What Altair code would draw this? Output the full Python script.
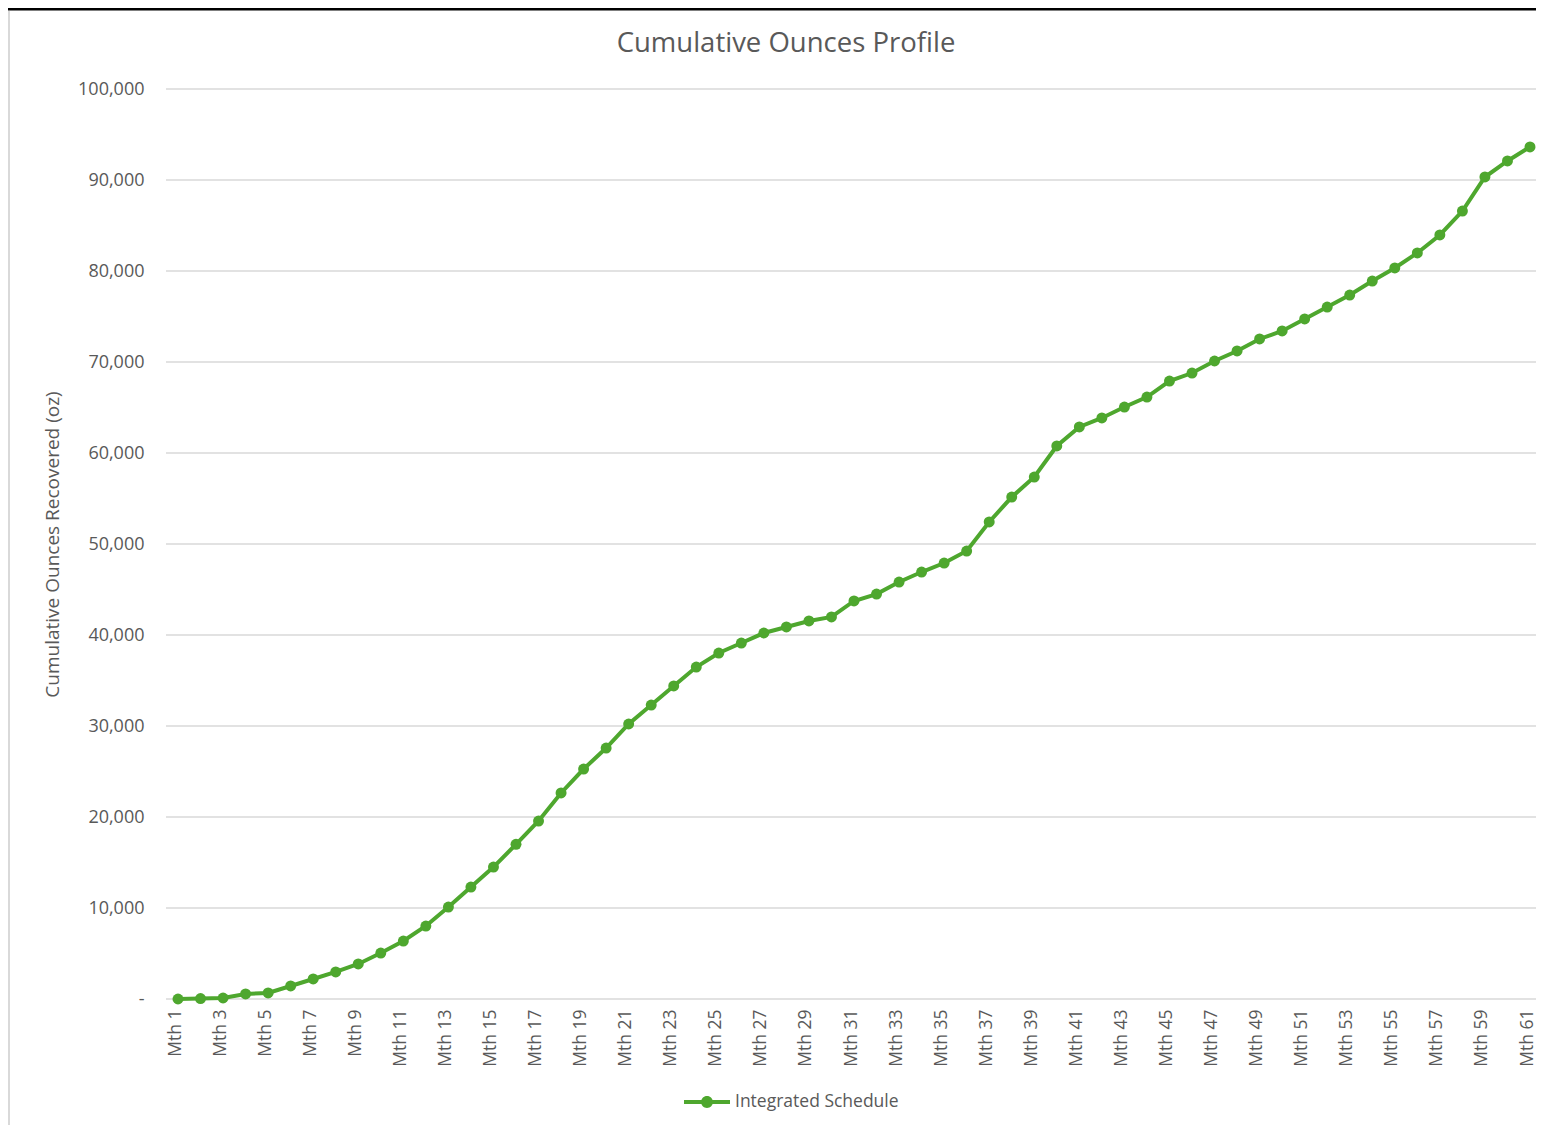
import altair as alt
import pandas as pd

months = [f"Mth {i}" for i in range(1, 62)]
ounces = [0, 50, 110, 550, 660, 1430, 2200, 2970, 3850, 5050,
          6370, 8020, 10100, 12300, 14500, 17000, 19560, 22640, 25270, 27580,
          30220, 32300, 34400, 36480, 38020, 39120, 40220, 40880, 41540, 41980,
          43740, 44500, 45820, 46920, 47910, 49230, 52420, 55160, 57360, 60770,
          62860, 63850, 65050, 66150, 67910, 68790, 70110, 71210, 72530, 73410,
          74730, 76040, 77360, 78900, 80330, 81980, 83960, 86590, 90330, 92090,
          93630]
series_name = "Integrated Schedule"
chart_title = "Cumulative Ounces Profile"
y_title = "Cumulative Ounces Recovered (oz)"
y_ticks = [0, 10000, 20000, 30000, 40000, 50000, 60000, 70000, 80000, 90000, 100000]
x_tick_labels = months[::2]

df = pd.DataFrame({"month": months, "oz": ounces, "series": series_name})
grid_df = pd.DataFrame({"oz": y_ticks})

GREEN = "#4EA72E"
TEXT = "#595959"
GRID = "#d9d9d9"
FONT = "Open Sans"

W, H = 1370, 910
PAD = {"left": 158, "top": 81, "right": 0, "bottom": 126}

legend_path = ("M-1,-0.087 L1,-0.087 L1,0.087 L-1,0.087 Z "
               "M-0.26,0 A0.26,0.26 0 1,1 0.26,0 A0.26,0.26 0 1,1 -0.26,0 Z")

y_enc = alt.Y(
    "oz:Q",
    scale=alt.Scale(domain=[0, 100000], nice=False),
    axis=alt.Axis(
        values=y_ticks,
        labelExpr="datum.value == 0 ? '-' : format(datum.value, ',')",
        labelFont=FONT,
        labelFontSize=18,
        labelColor=TEXT,
        labelPadding=22,
        ticks=False,
        domain=False,
        grid=False,
        title=y_title,
        titleFont=FONT,
        titleFontSize=19,
        titleFontWeight="normal",
        titleColor=TEXT,
        titleAngle=-90,
        titleAlign="center",
        titleBaseline="middle",
        titleX=-114,
        titleY=455,
    ),
)

grid = alt.Chart(grid_df).mark_rule(color=GRID, strokeWidth=1.5).encode(
    y=y_enc,
    x=alt.value(0),
    x2=alt.value(W),
)

line = alt.Chart(df).mark_line(
    strokeWidth=4,
    point=alt.OverlayMarkDef(size=120, filled=True, opacity=1),
).encode(
    x=alt.X(
        "month:O",
        sort=months,
        scale=alt.Scale(type="point", padding=0, range=[12, 1364]),
        axis=alt.Axis(
            values=x_tick_labels,
            labelAngle=-90,
            labelAlign="right",
            labelBaseline="middle",
            labelPadding=10,
            labelOffset=-3,
            labelFont=FONT,
            labelFontSize=17.5,
            labelColor=TEXT,
            ticks=False,
            domain=False,
            grid=False,
            title=None,
        ),
    ),
    y=y_enc,
    color=alt.Color(
        "series:N",
        scale=alt.Scale(range=[GREEN]),
        legend=alt.Legend(
            title=None,
            orient="none",
            legendX=518,
            legendY=990,
            padding=0,
            symbolType=legend_path,
            symbolSize=2116,
            symbolFillColor=GREEN,
            symbolStrokeColor=GREEN,
            symbolStrokeWidth=0,
            labelOffset=5,
            labelLimit=0,
            labelFont=FONT,
            labelFontSize=17.5,
            labelColor=TEXT,
        ),
    ),
)

deco = pd.DataFrame({"k": [0]})
title_mark = alt.Chart(deco).mark_text(
    text=chart_title,
    font=FONT,
    fontSize=27.5,
    color=TEXT,
    align="center",
    baseline="alphabetic",
).encode(x=alt.value(620), y=alt.value(-37))

top_border = alt.Chart(deco).mark_rule(color="#000000", strokeWidth=3).encode(
    x=alt.value(-PAD["left"]), x2=alt.value(W + PAD["right"]), y=alt.value(-80)
)
left_border = alt.Chart(deco).mark_rule(color=GRID, strokeWidth=2).encode(
    x=alt.value(-157), y=alt.value(-78), y2=alt.value(H + PAD["bottom"])
)

chart = alt.layer(grid, line, title_mark, top_border, left_border).properties(
    width=W,
    height=H,
    autosize=alt.AutoSizeParams(type="none"),
    padding=PAD,
    background="white",
).configure_view(stroke=None)

chart.save("out.html", embed_options={"renderer": "svg", "actions": False})
